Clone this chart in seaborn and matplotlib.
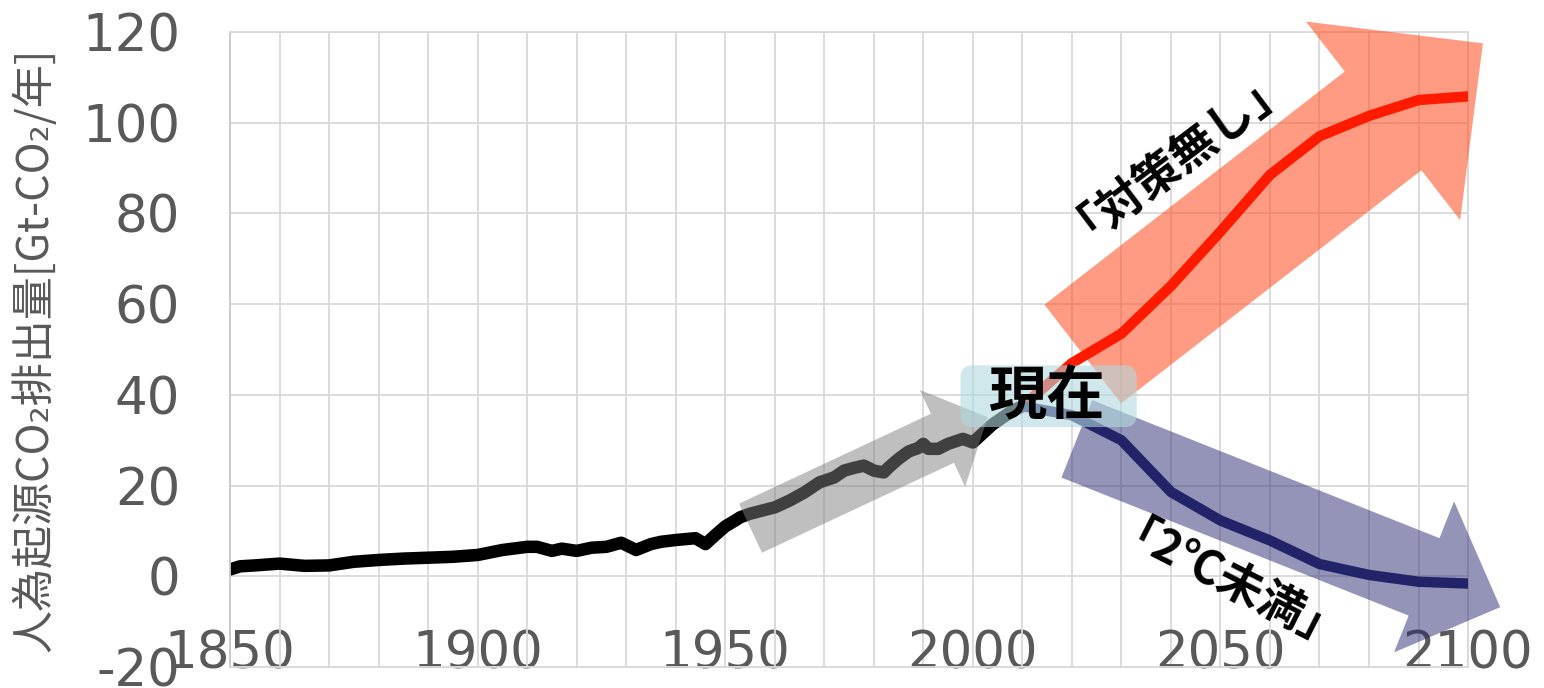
import matplotlib
matplotlib.use("Agg")
import matplotlib.pyplot as plt
from matplotlib.patches import FancyArrowPatch, FancyBboxPatch
import seaborn as sns
import pandas as pd

# historical emissions (Gt-CO2 / year)
hist_years = [1850, 1852, 1855, 1860, 1865, 1870, 1875, 1880, 1885, 1890, 1895, 1900,
              1905, 1910, 1912, 1915, 1917, 1920, 1923, 1926, 1929, 1932, 1935, 1937,
              1940, 1944, 1946, 1948, 1950, 1952, 1953, 1955, 1960, 1963, 1966, 1969,
              1972, 1974, 1976, 1978, 1980, 1982, 1983, 1985, 1987, 1989, 1990, 1991,
              1993, 1995, 1998, 2000, 2002, 2004, 2006, 2008, 2010]
hist_values = [1.5, 2.2, 2.4, 2.8, 2.3, 2.4, 3.2, 3.6, 3.9, 4.1, 4.3, 4.7,
               5.8, 6.5, 6.5, 5.6, 6.1, 5.6, 6.3, 6.5, 7.4, 5.8, 7.1, 7.6,
               8.0, 8.4, 7.1, 9.1, 11.0, 12.3, 13.0, 13.8, 15.2, 16.7, 18.5, 20.7,
               21.8, 23.3, 23.9, 24.4, 23.3, 22.9, 24.0, 25.9, 27.5, 28.3, 29.2, 28.1,
               28.1, 29.2, 30.3, 29.5, 31.5, 33.5, 35.0, 36.5, 37.5]

# scenarios
scen_years = [2010, 2020, 2030, 2040, 2050, 2060, 2070, 2080, 2090, 2100]
no_policy = [37.5, 47.0, 53.5, 64.0, 76.0, 88.5, 97.0, 101.5, 105.0, 105.8]
below_2c = [37.5, 35.5, 30.0, 18.6, 12.3, 7.9, 2.7, 0.3, -1.2, -1.6]

x_ticks = list(range(1850, 2101, 10))
x_labels = [str(y) if y % 50 == 0 else "" for y in x_ticks]
y_ticks = list(range(-20, 121, 20))

ylabel = "人為起源CO₂排出量[Gt-CO₂/年]"
label_now = "現在"
label_red = "「対策無し」"
label_blue = "「2℃未満」"

GRAY_TXT = "#595959"
CJK = ["Noto Sans CJK JP", "DejaVu Sans"]

sns.set_theme(style="white")
plt.rcParams["font.family"] = ["DejaVu Sans", "Noto Sans CJK JP"]
plt.rcParams["axes.unicode_minus"] = False

hist = pd.DataFrame({"year": hist_years, "value": hist_values})
scen = pd.DataFrame({"year": scen_years, "red": no_policy, "blue": below_2c})

fig = plt.figure(figsize=(15.44, 6.88), dpi=100)
ax = fig.add_axes([0.149, 0.0305, 0.8018, 0.923])

sns.lineplot(data=hist, x="year", y="value", ax=ax, color="black", lw=9,
             zorder=2, solid_joinstyle="round")
sns.lineplot(data=scen, x="year", y="red", ax=ax, color="#FF1A00", lw=7.5, zorder=4)
sns.lineplot(data=scen, x="year", y="blue", ax=ax, color="#232369", lw=7.5, zorder=4)


def add_arrow(tail, tip, tail_w, head_w, head_l, color, alpha, z):
    style = f"simple,head_length={head_l},head_width={head_w},tail_width={tail_w}"
    arr = FancyArrowPatch(tail, tip, arrowstyle=style, mutation_scale=1,
                          color=color, alpha=alpha, lw=0, shrinkA=0, shrinkB=0,
                          zorder=z, clip_on=False)
    ax.add_patch(arr)


# trend arrows (data coords, sizes in points)
add_arrow((1955.1, 10.6), (2003.0, 35.1), 39, 77, 36, "#808080", 0.5, 3)
add_arrow((2022.2, 49.0), (2103.0, 117.5), 90, 181, 91, "#FF4A1C", 0.55, 3)
add_arrow((2021.0, 30.3), (2106.5, -6.8), 60, 117, 59, "#2B2B73", 0.5, 3)

box = FancyBboxPatch((1997.5, 32.9), 35.6, 13.6,
                     boxstyle="round,pad=0,rounding_size=2.5", mutation_aspect=1.09,
                     fc="#B2D9DE", ec="none", alpha=0.6, zorder=5)
ax.add_patch(box)
ax.text(2014.9, 39.5, label_now, family=CJK, weight="bold", fontsize=42,
        ha="center", va="center", color="black", zorder=6)
ax.text(2040.0, 95.0, label_red, family=CJK, weight="bold", fontsize=33,
        rotation=37, ha="center", va="center", color="black", zorder=6,
        rotation_mode="anchor")
ax.text(2050.8, -4.0, label_blue, family=CJK, weight="bold", fontsize=33,
        rotation=-27, ha="center", va="center", color="black", zorder=6,
        rotation_mode="anchor")

ax.set_xlim(1850, 2100)
ax.set_ylim(-20, 120)
ax.set_xticks(x_ticks)
ax.set_xticklabels(x_labels)
ax.set_yticks(y_ticks)
ax.grid(True, color="#D9D9D9", lw=1.3)
ax.set_axisbelow(True)
for s in ax.spines.values():
    s.set_color("#D9D9D9")
    s.set_linewidth(1.3)
ax.spines["left"].set_color("#C8C8C8")

ax.tick_params(axis="y", length=0, pad=36, labelsize=37, labelcolor=GRAY_TXT)
ax.tick_params(axis="x", length=0, pad=-27, labelsize=37, labelcolor=GRAY_TXT)
ax.set_xlabel("")
ax.set_ylabel(ylabel, family=CJK, fontsize=31, color=GRAY_TXT)
ax.yaxis.label.set_va("center")
ax.yaxis.set_label_coords(-0.1575, 0.499)

fig.savefig("out.png", dpi=100)
